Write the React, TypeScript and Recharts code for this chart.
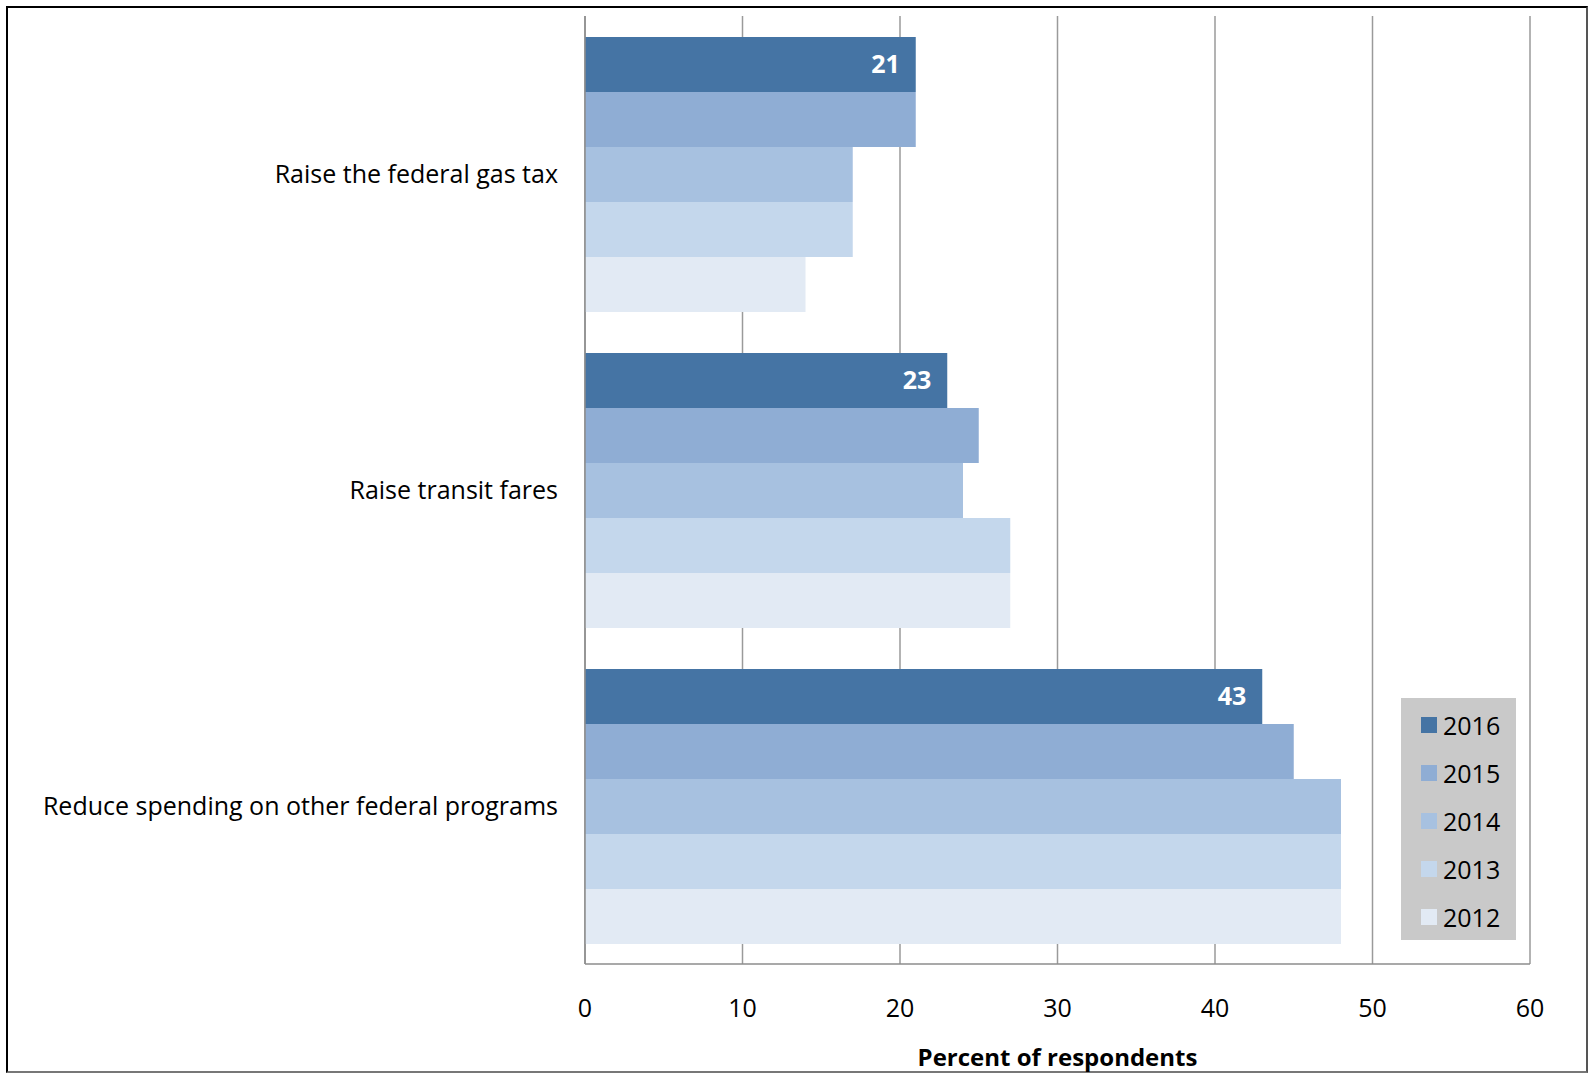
import React from "react";
import {
  BarChart,
  Bar,
  XAxis,
  YAxis,
  CartesianGrid,
  LabelList,
  Label,
} from "recharts";

// Survey answers, one row per funding option
const categories = [
  "Raise the federal gas tax",
  "Raise transit fares",
  "Reduce spending on other federal programs",
];
const years = ["2016", "2015", "2014", "2013", "2012"];
const values2016 = [21, 23, 43];
const values2015 = [21, 25, 45];
const values2014 = [17, 24, 48];
const values2013 = [17, 27, 48];
const values2012 = [14, 27, 48];
const xTicks = [0, 10, 20, 30, 40, 50, 60];

const seriesValues: Record<string, number[]> = {
  "2016": values2016,
  "2015": values2015,
  "2014": values2014,
  "2013": values2013,
  "2012": values2012,
};

const colors: Record<string, string> = {
  "2016": "#4574a4",
  "2015": "#8fadd4",
  "2014": "#a7c1e0",
  "2013": "#c4d7ec",
  "2012": "#e2eaf4",
};

const data = categories.map((name, i) => {
  const row: Record<string, string | number> = { name };
  for (const y of years) row[y] = seriesValues[y][i];
  return row;
});

const FONT = "'Open Sans', sans-serif";

/** Grey boxed legend on the lower right, same order as the bars. */
function LegendBox() {
  return (
    <div
      style={{
        position: "absolute",
        left: 1401,
        top: 698,
        background: "#c9c9c9",
        width: 115,
        height: 242,
        boxSizing: "border-box",
        paddingTop: 3,
        paddingLeft: 20,
        fontFamily: FONT,
        fontSize: 25,
        color: "#000",
      }}
    >
      {years.map((y) => (
        <div key={y} style={{ display: "flex", alignItems: "center", height: 48 }}>
          <span style={{ width: 16, height: 16, background: colors[y], marginRight: 6 }} />
          <span>{y}</span>
        </div>
      ))}
    </div>
  );
}

export default function App() {
  return (
    <div style={{ position: "absolute", left: 0, top: 0, width: 1591, height: 1076, background: "#fff" }}>
      <div
        style={{
          position: "absolute",
          left: 6,
          top: 6,
          width: 1582,
          height: 1067,
          boxSizing: "border-box",
          border: "2px solid #000",
          borderRight: "2px solid #555",
          borderBottom: "2px solid #777",
        }}
      />
      <BarChart
        width={1591}
        height={1076}
        data={data}
        layout="vertical"
        barCategoryGap={21}
        barGap={0}
        margin={{ top: 16, right: 61, bottom: 0, left: 10 }}
      >
        <CartesianGrid horizontal={false} stroke="#9a9a9a" strokeWidth={1.5} />
        <XAxis
          type="number"
          domain={[0, 60]}
          ticks={xTicks}
          height={112}
          tickSize={0}
          tickMargin={35}
          tick={{ fill: "#000", fontSize: 25, fontFamily: FONT }}
          axisLine={{ stroke: "#8c8c8c", strokeWidth: 1.5 }}
        >
          <Label
            value="Percent of respondents"
            position="insideBottom"
            offset={10}
            style={{ fill: "#000", fontSize: 24, fontWeight: 700, fontFamily: FONT }}
          />
        </XAxis>
        <YAxis
          type="category"
          dataKey="name"
          width={575}
          tickSize={0}
          tickMargin={27}
          tick={{ fill: "#000", fontSize: 25, fontFamily: FONT }}
          axisLine={{ stroke: "#8c8c8c", strokeWidth: 1.5 }}
        />
        {years.map((y) => (
          <Bar key={y} dataKey={y} name={y} fill={colors[y]} isAnimationActive={false}>
            {y === "2016" ? (
              <LabelList
                dataKey={y}
                position="insideRight"
                offset={16}
                style={{ fill: "#fff", fontSize: 25, fontWeight: 700, fontFamily: FONT }}
              />
            ) : null}
          </Bar>
        ))}
      </BarChart>
      <LegendBox />
    </div>
  );
}
